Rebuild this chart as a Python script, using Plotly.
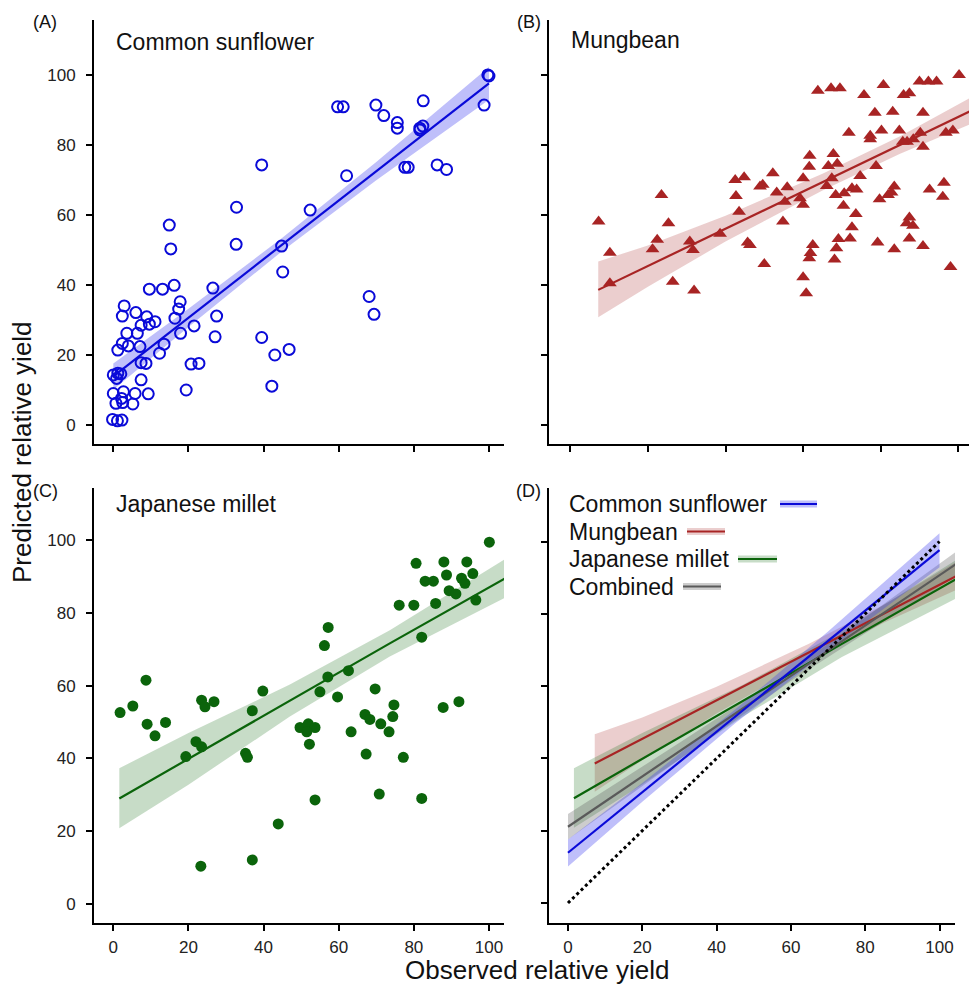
import plotly.graph_objects as go

# ---------------- data ----------------
sunflower_x = [39.5, 32.8, 32.7, 14.9, 15.3, 44.8, 45.1, 9.6, 13.1, 16.2, 26.5, 17.8, 17.4, 2.9, 2.4, 6.0, 8.9, 11.1, 9.6, 7.4,
               16.4, 6.4, 3.6, 21.5, 27.5, 17.9, 27.1, 39.5, 2.4, 4.0, 1.2, 7.1, 13.5, 12.3, 7.4, 8.7, 20.7, 22.8, 43.0, 46.8,
               0.0, 1.2, 2.0, 0.9, 7.4, 19.4, 42.2, 0.0, 2.7, 5.8, 9.3, 2.2, 0.7, 2.5, 5.2, -0.2, 1.1, 2.3,
               100.0, 99.7, 98.7, 82.5, 59.7, 61.2, 69.9, 72.0, 75.6, 75.6, 81.6, 82.4, 81.6, 77.6, 78.5, 86.2, 88.7, 62.1,
               52.4, 68.1, 69.4]
sunflower_y = [74.3, 62.2, 51.6, 57.1, 50.3, 51.1, 43.7, 38.8, 38.8, 39.9, 39.1, 35.2, 33.1, 34.0, 31.1, 32.1, 30.9, 29.5, 28.8, 28.5,
               30.5, 26.2, 26.2, 28.3, 31.1, 26.2, 25.2, 25.0, 23.3, 22.6, 21.4, 22.4, 23.1, 20.5, 17.8, 17.6, 17.4, 17.6, 20.0, 21.6,
               14.3, 14.8, 14.6, 13.3, 12.9, 10.0, 11.1, 9.0, 9.5, 9.0, 8.9, 7.6, 6.2, 6.4, 6.0, 1.6, 1.2, 1.4,
               99.7, 100.0, 91.4, 92.6, 90.9, 90.9, 91.4, 88.4, 86.4, 84.8, 84.8, 85.4, 84.3, 73.6, 73.6, 74.3, 73.0, 71.2,
               61.4, 36.7, 31.6]

mungbean_x = [7.3, 10.2, 10.2, 23.5, 25.3, 22.4, 21.2, 26.4, 31.9, 30.8, 31.6, 38.6, 42.5, 44.8, 42.7, 43.5, 45.7, 48.9,
              63.8, 67.2, 69.5, 75.7, 80.7, 90.0, 92.3, 94.4, 100.2, 85.9, 87.4, 78.5, 83.1, 90.9, 71.8, 77.3, 77.3,
              80.2, 84.8, 85.7, 86.8, 88.4, 90.2, 90.9, 96.8, 98.6, 61.7, 67.8, 61.6, 66.5, 68.8, 78.8, 60.0, 67.4,
              74.7, 52.2, 49.6, 55.9, 53.2, 66.1, 72.6, 73.8, 83.5, 55.3, 59.2, 60.0, 68.4, 70.6, 70.4, 79.7, 81.9,
              82.8, 92.6, 96.3, 96.0, 54.8, 73.6, 72.6, 69.1, 72.1, 68.6, 68.1, 62.5, 61.9, 61.6, 60.0, 60.8, 50.0,
              46.3, 79.2, 83.5, 87.4, 88.3, 87.4, 86.7, 90.9, 98.0]
mungbean_y = [58.1, 49.2, 40.5, 65.7, 57.6, 52.9, 50.2, 40.9, 38.4, 52.4, 50.0, 54.6, 70.0, 70.8, 65.4, 60.9, 52.1, 68.1,
              95.5, 96.2, 96.2, 94.3, 97.1, 98.1, 98.1, 98.1, 100.0, 94.3, 94.8, 89.2, 89.5, 89.2, 83.5, 82.6, 81.6,
              84.1, 84.1, 80.9, 80.9, 81.6, 83.5, 79.5, 83.5, 84.1, 76.9, 77.4, 73.8, 74.0, 74.6, 74.0, 70.5, 70.5,
              71.1, 71.9, 68.6, 67.9, 66.4, 68.3, 67.6, 67.3, 68.1, 63.8, 64.8, 62.9, 65.7, 66.2, 62.6, 64.5, 65.7,
              66.4, 67.3, 69.2, 65.2, 58.1, 60.3, 56.5, 53.1, 53.3, 50.5, 47.3, 51.4, 49.1, 47.6, 42.2, 37.6, 46.0,
              51.4, 52.1, 50.2, 59.3, 56.9, 53.3, 57.6, 51.1, 45.1]

millet_x = [1.8, 5.2, 8.7, 9.0, 11.1, 13.9, 23.5, 24.4, 26.8, 22.0, 23.5, 19.3, 37.0, 39.8, 35.2, 35.7, 43.9, 23.3, 37.0,
            100.1, 80.6, 88.0, 94.1, 88.7, 83.0, 85.2, 92.7, 95.7, 93.6, 89.4, 91.2, 96.5, 76.1, 80.0, 85.8, 82.1,
            57.2, 56.2, 57.1, 62.6, 55.0, 59.7, 69.7, 74.7, 74.4, 67.0, 68.3, 71.2, 73.4, 63.3, 49.7, 51.9, 53.7,
            51.5, 52.2, 67.3, 77.2, 87.8, 92.0, 53.7, 70.8, 82.1]
millet_y = [52.6, 54.4, 61.5, 49.4, 46.2, 49.9, 56.0, 54.2, 55.6, 44.6, 43.2, 40.5, 53.1, 58.5, 41.4, 40.3, 22.0, 10.4, 12.1,
            99.4, 93.6, 94.0, 94.0, 90.4, 88.7, 88.7, 89.5, 90.8, 88.1, 86.1, 85.2, 83.5, 82.1, 82.1, 82.6, 73.3,
            76.0, 71.0, 62.4, 64.1, 58.3, 56.9, 59.1, 54.7, 51.5, 52.1, 50.7, 49.5, 47.3, 47.3, 48.5, 49.5, 48.5,
            47.3, 43.9, 41.2, 40.3, 54.0, 55.6, 28.6, 30.2, 29.0]

# fitted lines with confidence bands
sun_fit_x = [0, 20, 45, 70, 100]
sun_fit_y = [13.9, 30.6, 51.6, 72.5, 97.6]
sun_lo = [10.1, 28.0, 49.7, 69.9, 92.9]
sun_hi = [17.6, 33.2, 53.5, 75.1, 102.3]

mung_fit_x = [7.2, 20, 40, 65, 85, 105]
mung_fit_y = [38.6, 45.4, 56.1, 69.4, 80.0, 90.7]
mung_lo = [30.8, 39.5, 52.4, 67.0, 77.5, 86.8]
mung_hi = [46.7, 51.3, 59.8, 71.8, 82.5, 94.6]

mil_fit_x = [1.6, 20, 47, 73.6, 104.5]
mil_fit_y = [29.0, 39.9, 55.9, 71.6, 89.6]
mil_lo = [20.8, 32.8, 51.5, 68.0, 84.3]
mil_hi = [37.3, 47.0, 60.3, 75.2, 94.9]

comb_fit_x = [0, 30, 60, 80, 104.5]
comb_fit_y = [21.1, 42.0, 62.9, 76.8, 93.8]
comb_lo = [17.6, 39.7, 61.4, 74.6, 90.4]
comb_hi = [24.6, 44.3, 64.4, 79.0, 97.2]

one_x = [0, 100]
one_y = [0, 100]

tick_vals = [0, 20, 40, 60, 80, 100]
tick_text = ["0", "20", "40", "60", "80", "100"]

BLUE, BLUE_BAND = "#0a0ad8", "rgba(60,60,240,0.33)"
RED, RED_BAND = "#a82424", "rgba(170,50,50,0.24)"
GREEN, GREEN_BAND = "#0b640b", "rgba(20,110,20,0.24)"
GRAY, GRAY_BAND = "#5a5a5a", "rgba(90,90,90,0.3)"

FONT = "Liberation Sans, Arial, sans-serif"

fig = go.Figure()


def band(xs, lo, hi, color, xa, ya):
    fig.add_trace(go.Scatter(x=list(xs) + list(xs)[::-1], y=list(hi) + list(lo)[::-1],
                             fill="toself", fillcolor=color, line=dict(width=0), mode="lines",
                             hoverinfo="skip", showlegend=False, xaxis=xa, yaxis=ya))


def fitline(xs, ys, color, xa, ya, w=2.2):
    fig.add_trace(go.Scatter(x=xs, y=ys, mode="lines", line=dict(color=color, width=w),
                             showlegend=False, xaxis=xa, yaxis=ya))


# Panel A
band(sun_fit_x, sun_lo, sun_hi, BLUE_BAND, "x", "y")
fitline(sun_fit_x, sun_fit_y, BLUE, "x", "y")
fig.add_trace(go.Scatter(x=sunflower_x, y=sunflower_y, mode="markers", cliponaxis=False,
                         marker=dict(symbol="circle-open", size=11, color=BLUE, line=dict(width=2, color=BLUE)),
                         showlegend=False, xaxis="x", yaxis="y"))

# Panel B
band(mung_fit_x, mung_lo, mung_hi, RED_BAND, "x2", "y2")
fitline(mung_fit_x, mung_fit_y, RED, "x2", "y2")
fig.add_trace(go.Scatter(x=mungbean_x, y=mungbean_y, mode="markers", cliponaxis=False,
                         marker=dict(symbol="triangle-up", size=12, color=RED, line=dict(width=0)),
                         showlegend=False, xaxis="x2", yaxis="y2"))

# Panel C
band(mil_fit_x, mil_lo, mil_hi, GREEN_BAND, "x3", "y3")
fitline(mil_fit_x, mil_fit_y, GREEN, "x3", "y3")
fig.add_trace(go.Scatter(x=millet_x, y=millet_y, mode="markers", cliponaxis=False,
                         marker=dict(symbol="circle", size=11, color=GREEN, line=dict(width=0)),
                         showlegend=False, xaxis="x3", yaxis="y3"))

# Panel D
band(mung_fit_x, mung_lo, mung_hi, RED_BAND, "x4", "y4")
band(mil_fit_x, mil_lo, mil_hi, GREEN_BAND, "x4", "y4")
band(comb_fit_x, comb_lo, comb_hi, GRAY_BAND, "x4", "y4")
band(sun_fit_x, sun_lo, sun_hi, BLUE_BAND, "x4", "y4")
fitline(mung_fit_x, mung_fit_y, RED, "x4", "y4")
fitline(mil_fit_x, mil_fit_y, GREEN, "x4", "y4")
fitline(comb_fit_x, comb_fit_y, GRAY, "x4", "y4")
fitline(sun_fit_x, sun_fit_y, BLUE, "x4", "y4")
fig.add_trace(go.Scatter(x=one_x, y=one_y, mode="lines", line=dict(color="black", width=3, dash="dot"),
                         showlegend=False, xaxis="x4", yaxis="y4"))

W, H = 969, 986


def fx(px):
    return px / W


def fy(py):
    return 1 - py / H


def axis(domain, rng, anchor, labels, standoff=0):
    d = dict(domain=domain, range=rng, anchor=anchor, showline=True, linecolor="black", linewidth=2,
             mirror=False, showgrid=False, zeroline=False, ticks="outside", ticklen=6, tickwidth=1.5,
             tickcolor="black", tickvals=tick_vals, ticktext=tick_text, showticklabels=labels,
             tickfont=dict(family=FONT, size=17, color="#222"))
    if standoff:
        d["ticklabelstandoff"] = standoff
    return d


top_dom = [fy(443.5), fy(20)]
bot_dom = [fy(922.5), fy(488)]
left_dom = [fx(94), fx(504)]

fig.update_layout(
    width=W, height=H, margin=dict(l=0, r=0, t=0, b=0),
    paper_bgcolor="white", plot_bgcolor="white", showlegend=False,
    font=dict(family=FONT, color="#111"),
    xaxis=axis(left_dom, [-5.14, 104.0], "y", False),
    yaxis=axis(top_dom, [-5.29, 115.7], "x", True, 7),
    xaxis2=axis([fx(549), 1.0], [-5.49, 102.76], "y2", False),
    yaxis2=axis(top_dom, [-5.29, 115.7], "x2", False),
    xaxis3=axis(left_dom, [-5.14, 104.0], "y3", True, 2),
    yaxis3=axis(bot_dom, [-5.08, 114.3], "x3", True, 7),
    xaxis4=axis([fx(549), fx(955)], [-5.11, 104.17], "y4", True, 2),
    yaxis4=axis(bot_dom, [-5.39, 114.8], "x4", False),
)

ann = []


def text(px, py, s, size, xanchor="left", angle=0):
    ann.append(dict(x=fx(px), y=fy(py), xref="paper", yref="paper", text=s, showarrow=False,
                    xanchor=xanchor, yanchor="middle", textangle=angle,
                    font=dict(family=FONT, size=size, color="#111")))


text(45, 22, "(A)", 18, "center")
text(529, 22, "(B)", 18, "center")
text(45, 491, "(C)", 18, "center")
text(528, 491, "(D)", 18, "center")
text(114, 42, "Common sunflower", 23)
text(569, 40, "Mungbean", 23)
text(114, 504, "Japanese millet", 23)
text(22, 452, "Predicted relative yield", 26, "center", -90)
text(537, 970, "Observed relative yield", 26, "center")

legend_items = [("Common sunflower", 504, 780, 817, BLUE, BLUE_BAND),
                ("Mungbean", 531.5, 687, 725, RED, RED_BAND),
                ("Japanese millet", 559, 738, 777, GREEN, GREEN_BAND),
                ("Combined", 586.5, 683, 721, GRAY, GRAY_BAND)]
shapes = []
for name, py, x0, x1, col, bcol in legend_items:
    text(567, py, name, 23)
    shapes.append(dict(type="line", xref="paper", yref="paper", x0=fx(x0), x1=fx(x1), y0=fy(py), y1=fy(py),
                       line=dict(color=bcol, width=7)))
    shapes.append(dict(type="line", xref="paper", yref="paper", x0=fx(x0), x1=fx(x1), y0=fy(py), y1=fy(py),
                       line=dict(color=col, width=2)))

fig.update_layout(annotations=ann, shapes=shapes)
fig.write_html("out.html")
